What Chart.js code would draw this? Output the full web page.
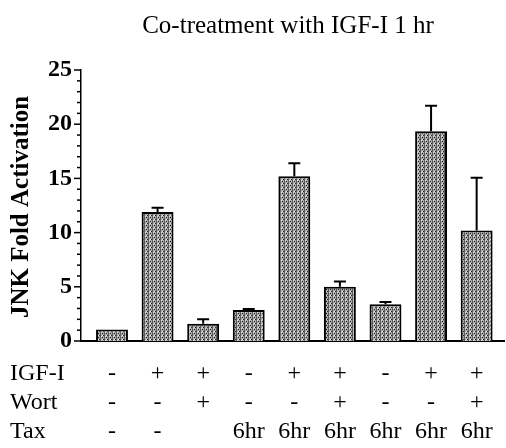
<!DOCTYPE html>
<html>
<head>
<meta charset="utf-8">
<script src="https://cdn.jsdelivr.net/npm/chart.js@4/dist/chart.umd.min.js"></script>
<style>
  html, body { margin: 0; padding: 0; background: #fff; }
  #wrap { width: 506px; height: 448px; }
</style>
</head>
<body>
<div id="wrap"><canvas id="jnkChart" width="506" height="448"></canvas></div>
<script>
// data
const igf = ['-', '+', '+', '-', '+', '+', '-', '+', '+'];
const wort = ['-', '-', '+', '-', '-', '+', '-', '-', '+'];
const tax = ['-', '-', '', '6hr', '6hr', '6hr', '6hr', '6hr', '6hr'];
const activation = [1.05, 11.9, 1.6, 2.85, 15.2, 5.0, 3.4, 19.35, 10.2];
const errorUp = [0, 0.4, 0.4, 0.1, 1.2, 0.5, 0.2, 2.35, 4.85];

const serif = "'Liberation Serif', 'Times New Roman', serif";

// stippled grey fill for the bars
const makePattern = () => {
  const c = document.createElement('canvas');
  c.width = 4; c.height = 4;
  const g = c.getContext('2d');
  g.fillStyle = '#a8a8a8';
  g.fillRect(0, 0, 4, 4);
  g.fillStyle = '#5a5a5a';
  g.fillRect(0, 0, 1, 4);
  g.fillStyle = '#222';
  g.fillRect(2, 1, 1, 1);
  g.fillRect(3, 3, 1, 1);
  g.fillStyle = '#e4e4e4';
  g.fillRect(2, 3, 1, 1);
  g.fillRect(1, 0, 1, 1);
  return g.createPattern(c, 'repeat');
};

// error bars (upper only)
const errorBars = {
  id: 'errorBars',
  afterDatasetsDraw(chart) {
    const ctx = chart.ctx;
    const y = chart.scales.y;
    const meta = chart.getDatasetMeta(0);
    ctx.save();
    ctx.strokeStyle = '#000';
    ctx.lineWidth = 2;
    meta.data.forEach((bar, i) => {
      if (!errorUp[i]) return;
      const top = y.getPixelForValue(activation[i] + errorUp[i]);
      ctx.beginPath();
      ctx.moveTo(bar.x, bar.y);
      ctx.lineTo(bar.x, top);
      ctx.moveTo(bar.x - 6, top);
      ctx.lineTo(bar.x + 6, top);
      ctx.stroke();
    });
    ctx.restore();
  }
};

// ticks, axis title, main title and the treatment table
const decorations = {
  id: 'decorations',
  afterDraw(chart) {
    const ctx = chart.ctx;
    const y = chart.scales.y;
    const x = chart.scales.x;
    const left = chart.chartArea.left;
    ctx.save();
    ctx.strokeStyle = '#000';
    ctx.lineWidth = 1.5;
    for (let v = 0; v <= 25; v++) {
      const py = y.getPixelForValue(v);
      const len = v % 5 === 0 ? 7 : 4;
      ctx.beginPath();
      ctx.moveTo(left - len, py);
      ctx.lineTo(left, py);
      ctx.stroke();
    }

    ctx.fillStyle = '#000';
    ctx.textAlign = 'center';
    ctx.textBaseline = 'middle';
    ctx.font = '25px ' + serif;
    ctx.fillText('Co-treatment with IGF-I 1 hr', 288, 26);

    ctx.save();
    ctx.translate(22, 207);
    ctx.rotate(-Math.PI / 2);
    ctx.font = 'bold 25px ' + serif;
    ctx.fillText('JNK Fold Activation', 0, 0);
    ctx.restore();

    const rows = [['IGF-I', igf, 374], ['Wort', wort, 403], ['Tax', tax, 432]];
    ctx.font = '24px ' + serif;
    rows.forEach(([name, vals, py]) => {
      ctx.textAlign = 'left';
      ctx.fillText(name, 10, py);
      ctx.textAlign = 'center';
      vals.forEach((s, i) => {
        ctx.fillText(s, x.getPixelForValue(i), py);
      });
    });
    ctx.restore();
  }
};

new Chart(document.getElementById('jnkChart'), {
  type: 'bar',
  data: {
    datasets: [{
      data: activation.map((v, i) => ({ x: i, y: v })),
      backgroundColor: makePattern(),
      borderColor: '#000',
      borderWidth: 2,
      borderSkipped: 'bottom',
      categoryPercentage: 1,
      barPercentage: 0.7
    }]
  },
  options: {
    responsive: false,
    animation: false,
    layout: { padding: { top: 70, right: 2, bottom: 99, left: 0 } },
    plugins: { legend: { display: false }, tooltip: { enabled: false } },
    scales: {
      x: {
        type: 'linear',
        offset: false,
        min: -0.68,
        max: 8.6,
        grid: { display: false },
        ticks: { display: false },
        border: { color: '#000', width: 2 }
      },
      y: {
        min: 0,
        max: 25,
        afterFit: (s) => { s.width = 81; },
        grid: { display: false, drawTicks: false },
        border: { color: '#000', width: 1.5 },
        ticks: {
          stepSize: 5,
          padding: 9,
          color: '#000',
          font: { family: serif, size: 24, weight: 'bold' }
        }
      }
    }
  },
  plugins: [errorBars, decorations]
});
</script>
</body>
</html>
